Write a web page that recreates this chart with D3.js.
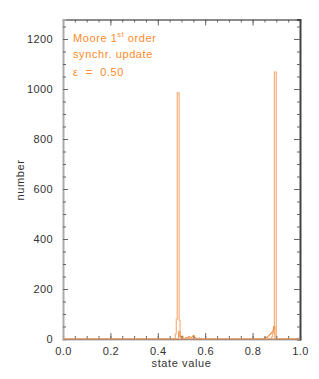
<!DOCTYPE html>
<html>
<head>
<meta charset="utf-8">
<script src="https://cdn.jsdelivr.net/npm/d3@7"></script>
<style>
  body { margin: 0; background: #fff; }
  text { font-family: "Liberation Sans", Arial, sans-serif; }
</style>
</head>
<body>
<div id="chart"></div>
<script>
// tick values
var xTicks = [0.0, 0.2, 0.4, 0.6, 0.8, 1.0];
var yTicks = [0, 200, 400, 600, 800, 1000, 1200];

// main histogram (pale orange), bin start and count
var peakBins = [0.000, 0.470, 0.474, 0.478, 0.482, 0.486, 0.490, 0.494, 0.498, 0.502,
                0.876, 0.880, 0.884, 0.888, 0.892, 0.896, 0.900, 1.000];
var peakCounts = [0, 0, 20, 80, 985, 985, 75, 10, 3, 0,
                  0, 8, 22, 40, 1068, 1068, 0, 0];

// small noise around the peaks (darker orange)
var noiseBins = [0.000, 0.488, 0.494, 0.500, 0.506, 0.512, 0.518, 0.524, 0.530, 0.536,
                 0.542, 0.548, 0.554, 0.560, 0.566, 0.572, 0.578, 0.584,
                 0.840, 0.846, 0.852, 0.858, 0.864, 0.870, 0.876, 0.882, 0.888, 0.894, 1.000];
var noiseCounts = [0, 30, 8, 12, 3, 0, 6, 4, 10, 5,
                   8, 14, 6, 3, 0, 4, 2, 0,
                   0, 3, 8, 5, 12, 18, 24, 32, 50, 0, 0];

var width = 319, height = 379;
var margin = {top: 19.5, right: 19, bottom: 40, left: 63};
var innerW = width - margin.left - margin.right,
    innerH = height - margin.top - margin.bottom;

var svg = d3.select("#chart").append("svg")
    .attr("width", width)
    .attr("height", height);

var g = svg.append("g")
    .attr("transform", "translate(" + margin.left + "," + margin.top + ")");

var xScale = d3.scaleLinear().domain([0, 1]).range([0, innerW]);
var yScale = d3.scaleLinear().domain([0, 1278]).range([innerH, 0]);

var xMinor = d3.range(0, 1.0001, 0.05);
var yMinor = d3.range(0, 1251, 50);

// histogram lines
var stepLine = function(bins, counts) {
  return d3.line()
      .x(d => xScale(d))
      .y((d, i) => yScale(counts[i]))
      .curve(d3.curveStepAfter)(bins);
};

g.append("path")
    .attr("d", stepLine(peakBins, peakCounts))
    .attr("fill", "none")
    .attr("stroke", "#f9b07c")
    .attr("stroke-width", 1.2);

g.append("path")
    .attr("d", stepLine(noiseBins, noiseCounts))
    .attr("fill", "none")
    .attr("stroke", "#f58a3c")
    .attr("stroke-width", 1);

// axes on all four sides, ticks pointing inward
var axisColor = "#666";

function styleAxis(sel) {
  sel.select(".domain").attr("stroke", axisColor).attr("stroke-width", 1.3);
  sel.selectAll(".tick line").attr("stroke", axisColor);
  sel.selectAll(".tick text")
      .attr("fill", "#333")
      .style("font-size", "11px")
      .style("letter-spacing", "0.4px");
}

// bottom
g.append("g")
    .attr("transform", "translate(0," + innerH + ")")
    .call(d3.axisBottom(xScale).tickValues(xMinor).tickSize(-3).tickFormat(""))
    .call(styleAxis);
g.append("g")
    .attr("transform", "translate(0," + innerH + ")")
    .call(d3.axisBottom(xScale).tickValues(xTicks).tickSize(-6).tickPadding(8)
        .tickFormat(d3.format(".1f")))
    .call(styleAxis)
    .call(a => a.select(".domain").remove());

// top
g.append("g")
    .call(d3.axisTop(xScale).tickValues(xMinor).tickSize(-3).tickFormat(""))
    .call(styleAxis);
g.append("g")
    .call(d3.axisTop(xScale).tickValues(xTicks).tickSize(-6).tickFormat(""))
    .call(styleAxis)
    .call(a => a.select(".domain").remove());

// left
g.append("g")
    .call(d3.axisLeft(yScale).tickValues(yMinor).tickSize(-3).tickFormat(""))
    .call(styleAxis)
    .call(a => a.select(".domain").attr("stroke", "#aaa").attr("stroke-width", 2));
g.append("g")
    .call(d3.axisLeft(yScale).tickValues(yTicks).tickSize(-5).tickPadding(10)
        .tickFormat(d3.format("d")))
    .call(styleAxis)
    .call(a => a.select(".domain").remove());

// right
g.append("g")
    .attr("transform", "translate(" + innerW + ",0)")
    .call(d3.axisRight(yScale).tickValues(yMinor).tickSize(-3).tickFormat(""))
    .call(styleAxis)
    .call(a => a.select(".domain").attr("stroke", "#444").attr("stroke-width", 2));
g.append("g")
    .attr("transform", "translate(" + innerW + ",0)")
    .call(d3.axisRight(yScale).tickValues(yTicks).tickSize(-6).tickFormat(""))
    .call(styleAxis)
    .call(a => a.select(".domain").remove());

// orange zero line drawn over the bottom axis
g.append("line")
    .attr("x1", xScale(0)).attr("x2", xScale(1))
    .attr("y1", yScale(0)).attr("y2", yScale(0))
    .attr("stroke", "#f9b07c")
    .attr("stroke-width", 1.2);

// axis titles
svg.append("text")
    .attr("x", margin.left + innerW / 2)
    .attr("y", 367)
    .attr("text-anchor", "middle")
    .attr("fill", "#333")
    .style("font-size", "11px")
    .style("letter-spacing", "0.6px")
    .text("state value");

svg.append("text")
    .attr("transform", "translate(24,180) rotate(-90)")
    .attr("text-anchor", "middle")
    .attr("fill", "#333")
    .style("font-size", "11px")
    .style("letter-spacing", "0.6px")
    .text("number");

// annotation
var orange = "#ff8a2a";
var note = svg.append("g")
    .attr("fill", orange)
    .style("font-size", "11px")
    .style("letter-spacing", "0.6px");

var line1 = note.append("text").attr("x", 73).attr("y", 42);
line1.append("tspan").text("Moore 1");
line1.append("tspan").attr("dy", -5).style("font-size", "7px").text("st");
line1.append("tspan").attr("dy", 5).text(" order");

note.append("text").attr("x", 73).attr("y", 58).text("synchr. update");
note.append("text").attr("x", 73).attr("y", 76).attr("xml:space", "preserve")
    .text("\u03b5  =  0.50");
</script>
</body>
</html>
